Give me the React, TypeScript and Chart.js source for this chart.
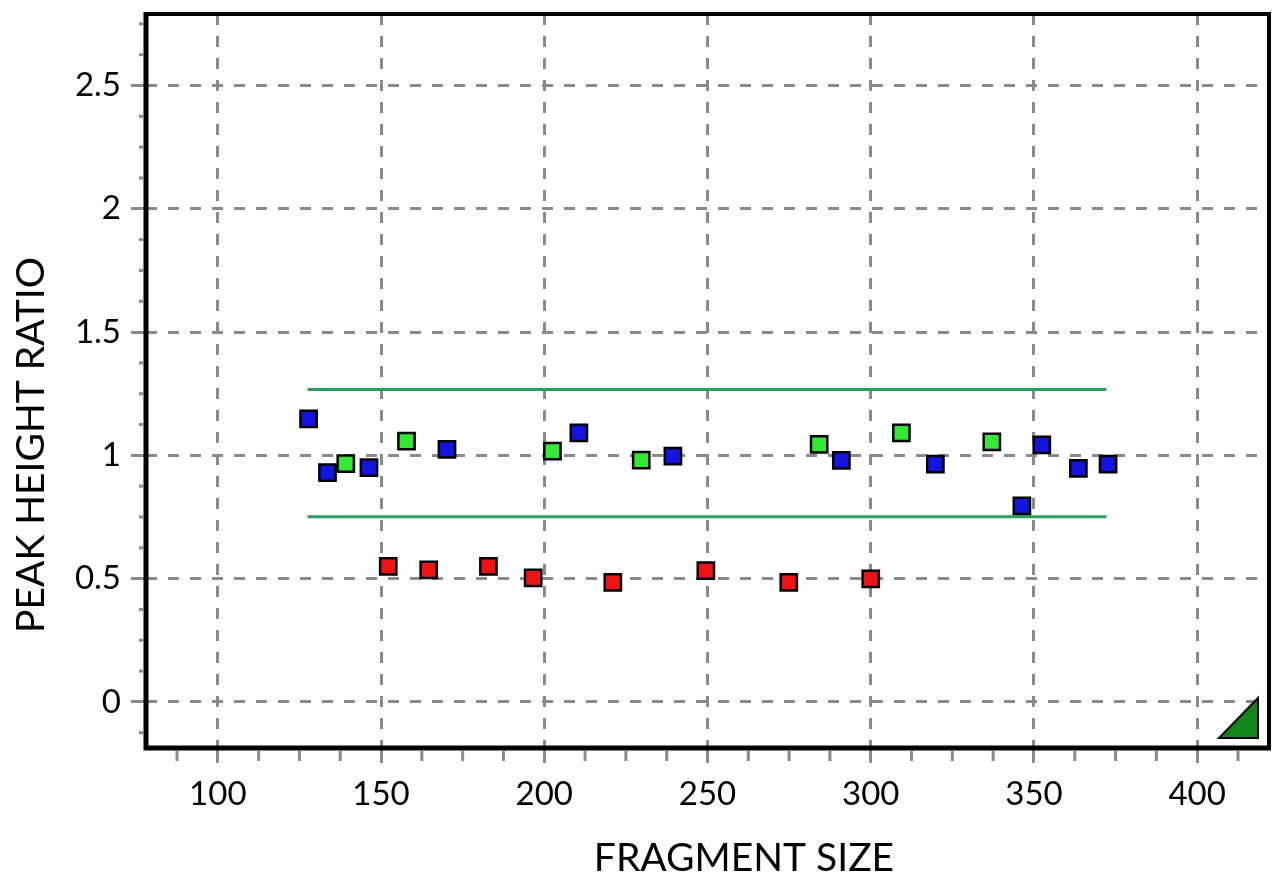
import React, { useEffect, useRef } from "react";
import { Chart, registerables } from "chart.js";

Chart.register(...registerables);

// ---- data ----
const blueX = [127.8, 133.6, 146.3, 170.2, 210.6, 239.4, 291.0, 319.8, 346.3, 352.4, 363.6, 372.7];
const blueY = [1.148, 0.93, 0.95, 1.024, 1.091, 0.997, 0.98, 0.964, 0.795, 1.042, 0.947, 0.964];
const greenX = [139.2, 157.8, 202.5, 229.7, 284.2, 309.4, 337.1];
const greenY = [0.966, 1.058, 1.017, 0.981, 1.044, 1.091, 1.055];
const redX = [152.2, 164.6, 182.9, 196.6, 221.0, 249.5, 274.9, 300.0];
const redY = [0.55, 0.535, 0.55, 0.503, 0.485, 0.532, 0.485, 0.499];
const thresholdX = [127.5, 372.2];
const upperThreshold = [1.267, 1.267];
const lowerThreshold = [0.751, 0.751];
const xTickValues = [100, 150, 200, 250, 300, 350, 400];
const yTickValues = [0, 0.5, 1, 1.5, 2, 2.5];
const xMinorStep = 12.5;
const yMinorStep = 0.125;
const xRange = [78, 422];
const yRange = [-0.187, 2.79];
const xTitle = "FRAGMENT SIZE";
const yTitle = "PEAK HEIGHT RATIO";

const FONT = "Lato, 'Open Sans', 'DejaVu Sans', sans-serif";
const GRID = "#8a8a8a";

const pts = (xs: number[], ys: number[]) => xs.map((x, i) => ({ x, y: ys[i] }));

const decorPlugin = {
  id: "decor",
  beforeDatasetsDraw(chart: any) {
    const { ctx, chartArea: a, scales } = chart;
    ctx.save();
    ctx.strokeStyle = GRID;
    ctx.lineWidth = 3;
    const xs = scales.x;
    for (let v = Math.ceil(xRange[0] / xMinorStep) * xMinorStep; v <= xRange[1]; v += xMinorStep) {
      if (xTickValues.includes(v)) continue;
      const px = xs.getPixelForValue(v);
      ctx.beginPath();
      ctx.moveTo(px, a.bottom + 3);
      ctx.lineTo(px, a.bottom + 13);
      ctx.stroke();
    }
    const ys = scales.y;
    for (let v = Math.ceil(yRange[0] / yMinorStep) * yMinorStep; v <= yRange[1]; v += yMinorStep) {
      if (yTickValues.some((t) => Math.abs(t - v) < 1e-9)) continue;
      const py = ys.getPixelForValue(v);
      ctx.beginPath();
      ctx.moveTo(a.left - 3, py);
      ctx.lineTo(a.left - 7, py);
      ctx.stroke();
    }
    ctx.restore();
  },
  afterDraw(chart: any) {
    const { ctx, chartArea: a } = chart;
    ctx.save();
    // frame
    ctx.strokeStyle = "#000";
    ctx.lineWidth = 4;
    ctx.beginPath();
    ctx.moveTo(a.left, a.top);
    ctx.lineTo(a.right, a.top);
    ctx.lineTo(a.right, a.bottom);
    ctx.stroke();
    ctx.lineWidth = 5;
    ctx.beginPath();
    ctx.moveTo(a.left, a.top - 2);
    ctx.lineTo(a.left, a.bottom);
    ctx.lineTo(a.right + 2, a.bottom);
    ctx.stroke();
    // resize grip triangle
    ctx.beginPath();
    ctx.moveTo(a.right - 50, a.bottom - 10);
    ctx.lineTo(a.right - 11, a.bottom - 10);
    ctx.lineTo(a.right - 11, a.bottom - 50);
    ctx.closePath();
    ctx.fillStyle = "#13861a";
    ctx.fill();
    ctx.lineWidth = 2;
    ctx.strokeStyle = "#000";
    ctx.stroke();
    // axis titles
    ctx.fillStyle = "#000";
    ctx.font = `39px ${FONT}`;
    ctx.textAlign = "center";
    ctx.textBaseline = "alphabetic";
    ctx.fillText(xTitle, 744, 871);
    ctx.translate(44, 445);
    ctx.rotate(-Math.PI / 2);
    ctx.fillText(yTitle, 0, 0);
    ctx.restore();
  },
};

export default function App() {
  const ref = useRef<HTMLCanvasElement | null>(null);
  useEffect(() => {
    if (!ref.current) return;
    const markerBase = {
      pointStyle: "rect" as const,
      pointRadius: 11.5,
      pointBorderColor: "#000",
      pointBorderWidth: 2.5,
      showLine: false,
    };
    const chart = new Chart(ref.current, {
      type: "scatter",
      data: {
        datasets: [
          { ...markerBase, label: "blue", data: pts(blueX, blueY), pointBackgroundColor: "#1414e0" },
          { ...markerBase, label: "green", data: pts(greenX, greenY), pointBackgroundColor: "#35e835" },
          { ...markerBase, label: "red", data: pts(redX, redY), pointBackgroundColor: "#ee1414" },
          {
            label: "upper",
            data: pts(thresholdX, upperThreshold),
            showLine: true,
            pointRadius: 0,
            borderColor: "#2e9a5e",
            borderWidth: 3,
          },
          {
            label: "lower",
            data: pts(thresholdX, lowerThreshold),
            showLine: true,
            pointRadius: 0,
            borderColor: "#2e9a5e",
            borderWidth: 3,
          },
        ],
      },
      options: {
        animation: false,
        responsive: true,
        maintainAspectRatio: false,
        layout: { padding: { left: 0, top: 11, right: 9, bottom: 0 } },
        plugins: { legend: { display: false }, tooltip: { enabled: false } },
        scales: {
          x: {
            type: "linear",
            min: xRange[0],
            max: xRange[1],
            afterBuildTicks: (s: any) => {
              s.ticks = xTickValues.map((v) => ({ value: v }));
            },
            afterFit: (s: any) => {
              s.height = 133;
              s.paddingLeft = 0;
              s.paddingRight = 0;
            },
            ticks: {
              color: "#000",
              font: { family: FONT, size: 33 },
              padding: 12,
              maxRotation: 0,
              autoSkip: false,
              callback: (v: any) => String(v),
            },
            grid: {
              color: GRID,
              lineWidth: 3,
              tickLength: 15,
              tickColor: GRID,
              tickWidth: 3,
            },
            border: { display: false, dash: [11, 11] },
          },
          y: {
            type: "linear",
            min: yRange[0],
            max: yRange[1],
            afterBuildTicks: (s: any) => {
              s.ticks = yTickValues.map((v) => ({ value: v }));
            },
            afterFit: (s: any) => {
              s.width = 146;
              s.paddingTop = 0;
              s.paddingBottom = 0;
            },
            ticks: {
              color: "#000",
              font: { family: FONT, size: 33 },
              padding: 10,
              autoSkip: false,
              callback: (v: any) => String(v),
            },
            grid: {
              color: GRID,
              lineWidth: 3,
              tickLength: 15,
              tickColor: GRID,
              tickWidth: 3,
            },
            border: { display: false, dash: [11, 11] },
          },
        },
      },
      plugins: [decorPlugin],
    });
    return () => chart.destroy();
  }, []);
  return (
    <div style={{ position: "fixed", left: 0, top: 0, width: 1283, height: 881, background: "#fff" }}>
      <canvas ref={ref} />
    </div>
  );
}
